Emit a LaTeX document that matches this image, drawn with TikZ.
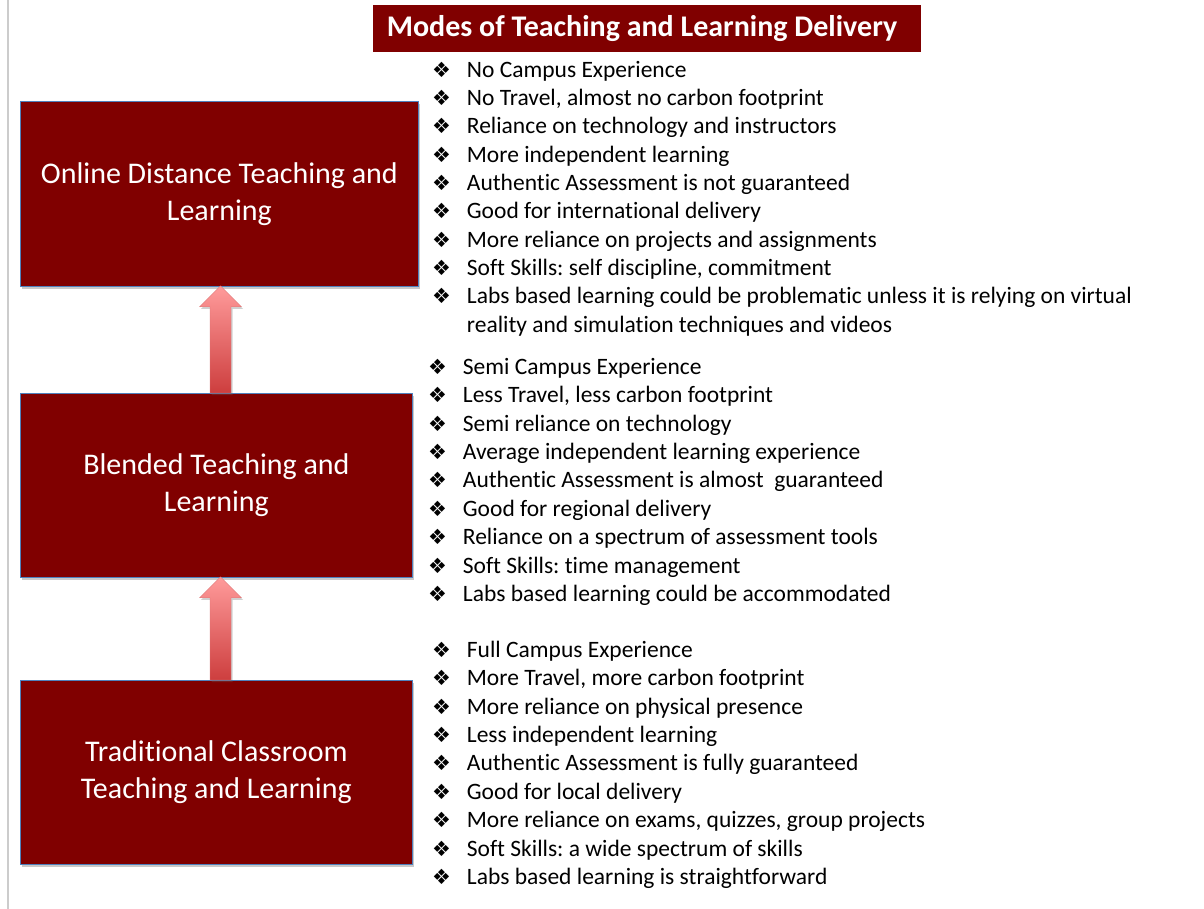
\documentclass[tikz,border=0pt]{standalone}
\usepackage{fontspec}
\setmainfont{Carlito}[Ligatures=NoCommon]
\newfontfamily\bulletfont{DejaVu Sans}
\usetikzlibrary{positioning, calc, shadows}
\frenchspacing

\definecolor{maroonbox}{RGB}{128,0,0}
\definecolor{boxedge}{RGB}{79,129,189}
\definecolor{arrowtop}{RGB}{255,155,155}
\definecolor{arrowbottom}{RGB}{205,62,62}

\newcommand{\bul}{\makebox[34.7pt][l]{\bulletfont\fontsize{21}{21}\selectfont\char"2756}}
\newcommand{\nobul}{\hspace*{34.7pt}}

\tikzset{
  modebox/.style={draw=boxedge, line width=0.8pt, fill=maroonbox, text=white,
    align=center, font=\fontsize{30}{36.6}\selectfont, inner sep=0pt,
    drop shadow={shadow xshift=2pt, shadow yshift=-3pt, opacity=0.35, fill=black!60}},
  titlebox/.style={fill=maroonbox, text=white, inner sep=0pt,
    font=\bfseries\fontsize{30}{34}\selectfont,
    minimum width=548pt, minimum height=47pt},
  itemtext/.style={anchor=base west, inner sep=0pt, font=\fontsize{23.5}{28.3}\selectfont},
  uparrow/.style={top color=arrowtop, bottom color=arrowbottom, draw=arrowbottom!70!white, line width=0.3pt,
    drop shadow={shadow xshift=1.5pt, shadow yshift=-2pt, opacity=0.3, fill=black!60}}
}

\newcommand{\uparrowbetween}[2]{% #1 lower box, #2 upper box
  \path[uparrow]
    ($(#1.north -| axis)+(-10.5,0)$) --
    ($(#2.south -| axis)+(-10.5,20)$) --
    ($(#2.south -| axis)+(-21,20)$) --
    ($(#2.south -| axis)+(0,-1)$) --
    ($(#2.south -| axis)+(21,20)$) --
    ($(#2.south -| axis)+(10.5,20)$) --
    ($(#1.north -| axis)+(10.5,0)$) -- cycle;}

\begin{document}
\begin{tikzpicture}[x=1pt, y=-1pt]
    \useasboundingbox (0,0) rectangle (1204,909);
    \fill[white] (0,0) rectangle (1204,909);
    \draw[black!20, line width=1.5pt] (8,0) -- (8,909);

    % Title
    \node[titlebox] (title) at (647,28.5) {Modes of Teaching and Learning Delivery\hspace*{10pt}};

    % The three modes
    \node[modebox, minimum width=398pt, minimum height=185pt, anchor=north west] (online) at (20,101)
        {Online Distance Teaching and\\Learning};
    \node[modebox, minimum width=392pt, minimum height=184pt, anchor=north west] (blended) at (20,393)
        {Blended Teaching and\\Learning};
    \node[modebox, minimum width=392pt, minimum height=184pt, anchor=north west] (classroom) at (20,680)
        {Traditional Classroom\\Teaching and Learning};

    % Arrows between the modes
    \coordinate (axis) at (220.5,0);
    \uparrowbetween{blended}{online}
    \uparrowbetween{classroom}{blended}

    % Online features
    \foreach \t [count=\i] in {{\bul No Campus Experience},
        {\bul No Travel, almost no carbon footprint},
        {\bul Reliance on technology and instructors},
        {\bul More independent learning},
        {\bul Authentic Assessment is not guaranteed},
        {\bul Good for international delivery},
        {\bul More reliance on projects and assignments},
        {\bul Soft Skills: self discipline, commitment},
        {\bul Labs based learning could be problematic unless it is relying on virtual},
        {\nobul reality and simulation techniques and videos}}
        \node[itemtext] (online-\i) at (432,{77.3+28.3*(\i-1)}) {\t};

    % Blended features
    \foreach \t [count=\i] in {{\bul Semi Campus Experience},
        {\bul Less Travel, less carbon footprint},
        {\bul Semi reliance on technology},
        {\bul Average independent learning experience},
        {\bul Authentic Assessment is almost~ guaranteed},
        {\bul Good for regional delivery},
        {\bul Reliance on a spectrum of assessment tools},
        {\bul Soft Skills: time management},
        {\bul Labs based learning could be accommodated}}
        \node[itemtext] (blended-\i) at (428,{374.3+28.4*(\i-1)}) {\t};

    % Classroom features
    \foreach \t [count=\i] in {{\bul Full Campus Experience},
        {\bul More Travel, more carbon footprint},
        {\bul More reliance on physical presence},
        {\bul Less independent learning},
        {\bul Authentic Assessment is fully guaranteed},
        {\bul Good for local delivery},
        {\bul More reliance on exams, quizzes, group projects},
        {\bul Soft Skills: a wide spectrum of skills},
        {\bul Labs based learning is straightforward}}
        \node[itemtext] (classroom-\i) at (432,{657.3+28.4*(\i-1)}) {\t};
\end{tikzpicture}
\end{document}
